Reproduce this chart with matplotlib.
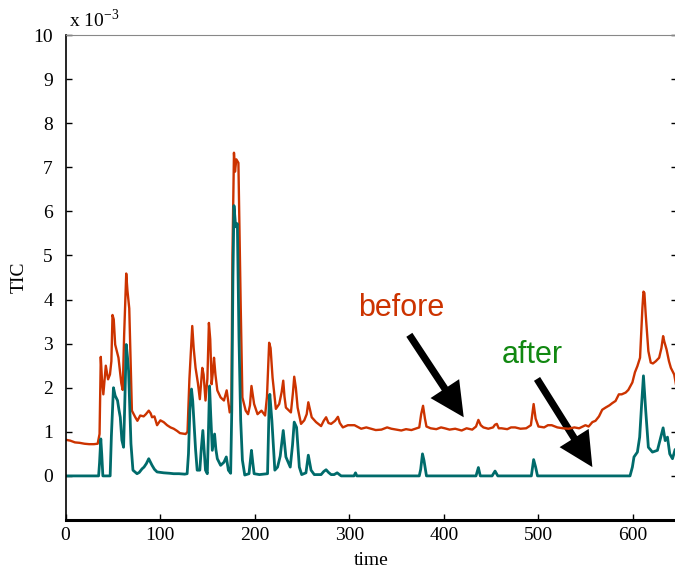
import matplotlib
matplotlib.use('Agg')
import matplotlib.pyplot as plt
from matplotlib.patches import FancyArrowPatch

# TIC traces, values in units of 1e-3
before_x = [0, 5, 10, 15, 20, 25, 30, 34, 36, 37.3, 38.5, 40, 42.6, 45, 47, 48.5, 49.7, 51, 52.5, 56,
            59, 60.5, 62, 64.2, 65.5, 67.4, 69, 70.2, 73.8, 76, 79, 82.6, 85, 88, 90, 91.5, 94, 96.8,
            100.3, 103.8, 107.4, 111, 114.4, 118, 121, 124, 127, 129, 131, 134, 135.5, 137.5, 140, 142,
            144.6, 146, 148, 150, 151.6, 153, 154.5, 156, 157, 158.5, 160.5, 164, 167.5, 170.4, 172,
            173.6, 175.4, 176.5, 178.1, 179.2, 180.6, 182.8, 184, 185.2, 187, 190.5, 193, 195, 196.6,
            199.4, 203, 207.2, 211, 213, 215.3, 216.8, 218.9, 222.4, 225.9, 228.5, 230.2, 231.5, 233,
            238.3, 240.5, 241.8, 243.5, 245.4, 249, 252.4, 255, 256.7, 258.5, 260.3, 264.9, 270.2, 273,
            275.5, 278, 280.8, 285, 288, 290, 293.2, 298.5, 305.5, 312.6, 318, 323, 328, 334, 340,
            344.5, 350, 355, 360, 365.7, 370, 374, 376, 378, 380, 381.6, 386, 392, 397, 401, 406, 412,
            418.8, 424, 430, 434, 436.5, 439, 441.8, 447, 452, 454, 456, 458, 461, 467, 471, 475.4,
            481, 487, 492, 494.9, 497, 500, 506, 510, 514, 520, 526, 532, 538, 543, 549.7, 553, 557,
            560.3, 564, 567.4, 571, 575, 578, 581.5, 585, 588, 592.2, 595, 599.3, 602, 604.6, 607.4,
            609.9, 611, 612, 613.4, 616.2, 618.7, 621, 624, 627.6, 630, 631.8, 633, 635.4, 638, 640,
            643.5, 646]
before_y = [0.82, 0.80, 0.76, 0.75, 0.73, 0.72, 0.72, 0.73, 0.95, 2.70, 2.2, 1.85, 2.5, 2.19, 2.3, 2.6,
            3.65, 3.55, 2.98, 2.68, 2.1, 1.95, 3.2, 4.59, 4.2, 3.8, 2.5, 1.48, 1.33, 1.25, 1.37, 1.35,
            1.4, 1.48, 1.42, 1.33, 1.35, 1.15, 1.26, 1.22, 1.15, 1.10, 1.07, 1.02, 0.97, 0.96, 0.95,
            1.0, 2.2, 3.40, 2.9, 2.45, 2.1, 1.74, 2.45, 2.3, 1.71, 2.2, 3.47, 3.1, 2.08, 2.4, 2.68,
            2.3, 1.94, 1.78, 1.71, 1.94, 1.7, 1.44, 1.6, 5.0, 7.33, 6.9, 7.18, 7.1, 5.5, 3.88, 1.78,
            1.48, 1.4, 1.6, 2.04, 1.63, 1.40, 1.48, 1.37, 1.8, 3.02, 2.9, 2.23, 1.52, 1.63, 1.9, 2.16,
            1.8, 1.55, 1.44, 1.9, 2.25, 2.0, 1.55, 1.18, 1.26, 1.4, 1.67, 1.5, 1.33, 1.22, 1.13, 1.25,
            1.33, 1.2, 1.18, 1.25, 1.34, 1.2, 1.10, 1.15, 1.15, 1.07, 1.1, 1.07, 1.04, 1.05, 1.1,
            1.07, 1.05, 1.03, 1.06, 1.04, 1.07, 1.1, 1.4, 1.59, 1.3, 1.12, 1.08, 1.06, 1.1, 1.08, 1.05,
            1.07, 1.03, 1.08, 1.05, 1.12, 1.27, 1.15, 1.10, 1.07, 1.1, 1.16, 1.18, 1.08, 1.08, 1.06,
            1.1, 1.10, 1.07, 1.08, 1.15, 1.63, 1.3, 1.12, 1.1, 1.15, 1.15, 1.1, 1.08, 1.07, 1.1, 1.08,
            1.15, 1.12, 1.22, 1.25, 1.35, 1.5, 1.55, 1.6, 1.65, 1.70, 1.85, 1.85, 1.89, 1.95, 2.12,
            2.35, 2.49, 2.68, 3.81, 4.18, 4.15, 3.66, 2.83, 2.57, 2.55, 2.6, 2.68, 2.9, 3.17, 3.05,
            2.87, 2.6, 2.45, 2.30, 2.0]

after_x = [0, 35, 36, 37.3, 38.3, 39.5, 47.2, 48.5, 50.7, 52.5, 55, 56.5, 57.9, 59.6, 61.4, 62.5, 64.2,
           65.5, 66.7, 68, 69.2, 71.3, 75.6, 78, 80.9, 83, 85.5, 88, 91.5, 94, 96.8, 103.8, 110, 114.4,
           120, 126, 128.6, 130, 131.5, 133.2, 134.5, 135.7, 137.5, 139.2, 142, 143.5, 145.2, 146.5,
           148, 149.9, 151, 152.3, 153.5, 155.2, 157.6, 159, 160.5, 164, 167.5, 170, 172.2, 174.6,
           175.8, 177, 178.1, 179.9, 181.7, 183.4, 185.2, 187, 189.5, 194, 195.5, 196.6, 198, 199.4,
           205, 213.6, 215.3, 216, 218.2, 221.3, 224.2, 227, 230.2, 233, 237.6, 240, 241.8, 244.3,
           247.2, 249.7, 254.2, 256.7, 259.6, 263, 270.2, 273, 275.5, 278, 280.8, 284, 287.2, 291.4,
           305, 306.6, 308, 374, 375.5, 377.4, 379, 381.6, 434, 436.5, 438.5, 451, 454.1, 457, 492.5,
           494.9, 497, 499, 596.8, 599.3, 601, 604.6, 607, 609, 611, 613.4, 616.2, 620.5, 625.8,
           629.3, 631.8, 634, 636.4, 638.8, 641.7, 644.5, 647]
after_y = [0.0, 0.0, 0.3, 0.84, 0.5, 0.0, 0.0, 0.9, 2.0, 1.82, 1.71, 1.5, 1.33, 0.81, 0.65, 1.5, 2.98,
           2.7, 2.38, 1.5, 0.73, 0.13, 0.05, 0.08, 0.16, 0.2, 0.28, 0.39, 0.24, 0.15, 0.09, 0.07, 0.06,
           0.05, 0.05, 0.04, 0.05, 0.5, 1.5, 1.97, 1.7, 1.25, 0.6, 0.13, 0.13, 0.6, 1.03, 0.6, 0.13,
           0.05, 0.9, 2.04, 1.4, 0.58, 0.95, 0.6, 0.39, 0.24, 0.31, 0.43, 0.13, 0.06, 1.5, 4.5, 6.13,
           5.65, 5.72, 3.13, 1.26, 0.36, 0.02, 0.05, 0.35, 0.58, 0.3, 0.05, 0.03, 0.05, 1.63, 1.85,
           1.25, 0.13, 0.2, 0.45, 1.03, 0.43, 0.2, 0.7, 1.22, 1.1, 0.2, 0.03, 0.07, 0.47, 0.13, 0.03,
           0.03, 0.1, 0.14, 0.08, 0.03, 0.03, 0.07, 0.0, 0.0, 0.07, 0.0, 0.0, 0.15, 0.5, 0.35, 0.0,
           0.0, 0.19, 0.0, 0.0, 0.11, 0.0, 0.0, 0.37, 0.2, 0.0, 0.0, 0.2, 0.43, 0.54, 0.88, 1.6,
           2.27, 1.48, 0.65, 0.54, 0.58, 0.88, 1.09, 0.8, 0.88, 0.5, 0.39, 0.6, 0.55]

x_ticks = [0, 100, 200, 300, 400, 500, 600]
y_ticks = [0, 1, 2, 3, 4, 5, 6, 7, 8, 9, 10]

plt.rcParams['mathtext.fontset'] = 'custom'
plt.rcParams['mathtext.rm'] = 'Liberation Serif'

fig = plt.figure(figsize=(6.75, 5.69), dpi=100)
ax = fig.add_axes([65.5 / 675, 49 / 569, 612 / 675, 485 / 569])

ax.plot(before_x, before_y, color='#cc3300', lw=1.7)
ax.plot(after_x, after_y, color='#006b6b', lw=2.0)

ax.set_xlim(0, 647)
ax.set_ylim(-1, 10)
ax.set_xticks(x_ticks)
ax.set_yticks(y_ticks)
ax.tick_params(direction='in', length=4, width=1, labelsize=14, right=True)
ax.tick_params(axis='y', pad=9)
ax.tick_params(axis='x', pad=5)
for lbl in ax.get_xticklabels() + ax.get_yticklabels():
    lbl.set_fontfamily('Liberation Serif')

ax.spines['left'].set_linewidth(1.2)
ax.spines['bottom'].set_linewidth(2.2)
ax.spines['top'].set_color('#888888')
ax.spines['right'].set_visible(False)

ax.set_xlabel('time', fontsize=14, family='Liberation Serif', labelpad=6)
ax.set_ylabel('TIC', fontsize=14, family='Liberation Serif', labelpad=4)
ax.text(0.005, 1.008, r'x 10$^{-3}$', transform=ax.transAxes, fontsize=14,
        family='Liberation Serif', ha='left', va='bottom')

# annotations
ax.text(355, 3.8, 'before', color='#cc3300', fontsize=22, family='Liberation Sans',
        ha='center', va='center')
ax.text(493, 2.75, 'after', color='#118811', fontsize=22, family='Liberation Sans',
        ha='center', va='center')
style = 'simple,head_length=0.95,head_width=0.95,tail_width=0.2'
ax.add_patch(FancyArrowPatch((363.5, 3.2), (421, 1.33), arrowstyle=style, shrinkA=0, shrinkB=0,
                             mutation_scale=26, color='black', lw=0))
ax.add_patch(FancyArrowPatch((498.5, 2.2), (557, 0.2), arrowstyle=style, shrinkA=0, shrinkB=0,
                             mutation_scale=26, color='black', lw=0))

plt.savefig('out.png', dpi=100)
